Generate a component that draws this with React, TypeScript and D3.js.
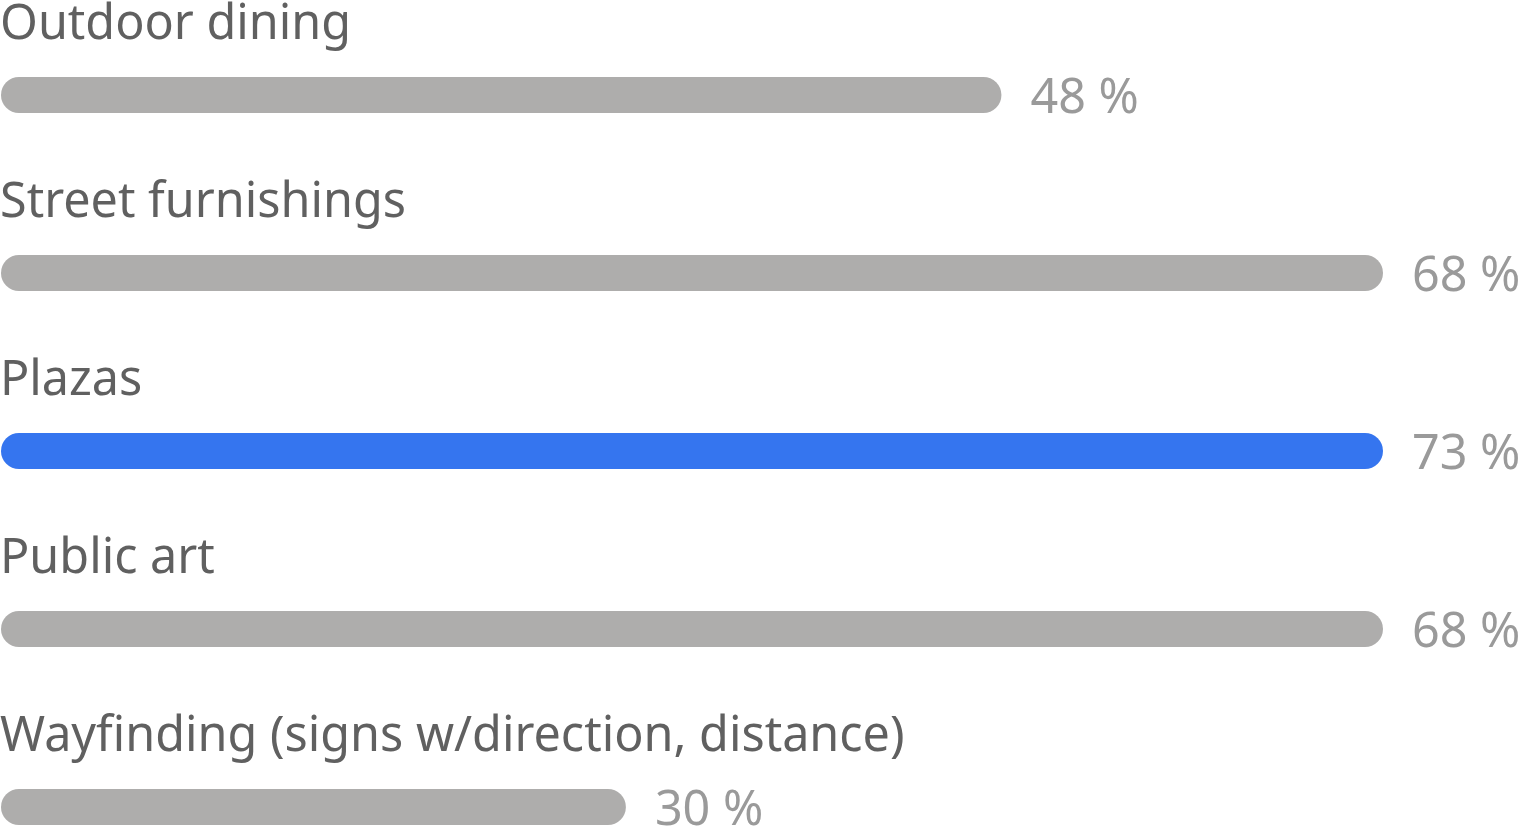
import React, { useRef, useEffect } from 'react';
import * as d3 from 'd3';

const categories = [
  'Outdoor dining',
  'Street furnishings',
  'Plazas',
  'Public art',
  'Wayfinding (signs w/direction, distance)',
];
const values = [48, 68, 73, 68, 30];
const highlight = 'Plazas';

const App: React.FC = () => {
  const svgRef = useRef<SVGSVGElement>(null);
  const width = 1519;
  const height = 826;

  useEffect(() => {
    if (!svgRef.current) return;
    const svg = d3.select(svgRef.current);
    svg.selectAll('*').remove();

    const barH = 36;
    const rowH = 178;
    const barTop = 77;
    const labelSpace = 136;
    const fontSize = 48.5;

    const x = d3.scaleLinear()
      .domain([0, d3.max(values) || 1])
      .range([0, width + 4]);

    const y = d3.scaleLinear()
      .domain([0, 1])
      .range([barTop, barTop + rowH]);

    const rows = svg.selectAll('.row')
      .data(categories)
      .enter()
      .append('g')
      .attr('class', 'row');

    // category label above each bar
    rows.append('text')
      .attr('x', 0)
      .attr('y', (_, i) => y(i) - 38)
      .style('font-family', '"Noto Sans", sans-serif')
      .style('font-size', `${fontSize}px`)
      .style('fill', '#606060')
      .text(d => d);

    // bars, capped so the value label still fits
    const barW = (i: number) => Math.min(x(values[i]), width - labelSpace) - 1;

    rows.append('rect')
      .attr('x', 1)
      .attr('y', (_, i) => y(i))
      .attr('width', (_, i) => barW(i))
      .attr('height', barH)
      .attr('rx', barH / 2)
      .attr('fill', d => (d === highlight ? '#3575ef' : '#aeadac'));

    // value labels
    rows.append('text')
      .attr('x', (_, i) => 1 + barW(i) + 29)
      .attr('y', (_, i) => y(i) + barH)
      .style('font-family', '"Noto Sans", sans-serif')
      .style('font-size', `${fontSize}px`)
      .style('fill', '#9a9a9a')
      .text((_, i) => `${values[i]} %`);
  }, []);

  return (
    <svg
      ref={svgRef}
      width={width}
      height={height}
      style={{ position: 'absolute', left: 0, top: 0, background: '#fff' }}
    />
  );
};

export default App;
